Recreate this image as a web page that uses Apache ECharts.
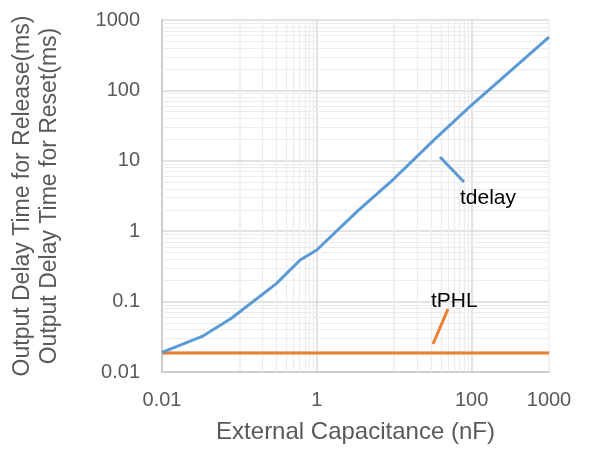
<!DOCTYPE html>
<html>
<head>
  <meta charset="utf-8" />
  <title>Output delay vs external capacitance</title>
  <style>
    html, body { margin: 0; padding: 0; background: #fff; }
    #chartBox { width: 590px; height: 455px; }
  </style>
</head>
<body>
  <div id="chartBox"></div>
  <script src="https://cdn.jsdelivr.net/npm/echarts@6/dist/echarts.min.js"></script>
  <script>
    // capacitance (nF) and delay (ms)
    var tdelayCap = [0.01, 0.033, 0.079, 0.30, 0.61, 1, 3.3, 10, 33, 100, 1000];
    var tdelayMs  = [0.019, 0.032, 0.058, 0.18, 0.39, 0.54, 1.9, 5.6, 20, 62, 570];
    var tphlCap = [0.01, 1000];
    var tphlMs  = [0.0186, 0.0186];

    var xTickLabels = ['0.01', '1', '100', '1000'];
    var yTickLabels = ['0.01', '0.1', '1', '10', '100', '1000'];
    // light gridlines between the labelled ones (Excel minor lines)
    var xMinorGrid = [0.2, 0.3, 0.4, 0.5, 0.6, 0.7, 0.8, 0.9, 20, 30, 40, 50, 60, 70, 80, 90];
    var yDecades = [0.01, 0.1, 1, 10, 100];
    var yMinorSteps = [2, 3, 4, 5, 6, 7, 8, 9];

    var xTitle = 'External Capacitance (nF)';
    var yTitleLines = ['Output Delay Time for Release(ms)', 'Output Delay Time for Reset(ms)'];

    var _font = 'Liberation Sans, Arial, sans-serif';
    var textGray = '#595959';

    function pairs(xs, ys) {
      var out = [];
      for (var i = 0; i < xs.length; i++) out.push([xs[i], ys[i]]);
      return out;
    }

    function fmtTick(list) {
      return function (v) {
        var s = String(+v.toPrecision(6));
        return list.indexOf(s) >= 0 ? s : '';
      };
    }

    var minorLines = [];
    xMinorGrid.forEach(function (v) { minorLines.push({ xAxis: v }); });
    yDecades.forEach(function (d) {
      yMinorSteps.forEach(function (m) { minorLines.push({ yAxis: +(d * m).toPrecision(6) }); });
    });

    var myChart = echarts.init(document.getElementById('chartBox'));
    var option = {
      animation: false,
      textStyle: { fontFamily: _font },
      grid: { left: 162, right: 41, top: 20, bottom: 83, containLabel: false },
      xAxis: {
        type: 'log',
        logBase: 10,
        min: 0.01,
        max: 1000,
        splitNumber: 5,
        name: xTitle,
        nameLocation: 'middle',
        nameGap: 48,
        nameTextStyle: { fontSize: 24, color: textGray, fontFamily: _font },
        axisLine: { show: true, lineStyle: { color: '#c6c6c6', width: 1.5 } },
        axisTick: { show: false },
        axisLabel: {
          fontSize: 20, color: textGray, margin: 18, fontFamily: _font,
          showMinLabel: true, showMaxLabel: true,
          formatter: fmtTick(xTickLabels)
        },
        splitLine: { show: true, lineStyle: { color: ['#d9d9d9', '#ececec'], width: 1.5 } }
      },
      yAxis: {
        type: 'log',
        logBase: 10,
        min: 0.01,
        max: 1000,
        splitNumber: 5,
        name: yTitleLines.join('\n'),
        nameLocation: 'middle',
        nameRotate: 90,
        nameGap: 99,
        nameTextStyle: { fontSize: 23, lineHeight: 27, color: textGray, fontFamily: _font },
        axisLine: { show: true, lineStyle: { color: '#c6c6c6', width: 1.5 } },
        axisTick: { show: false },
        axisLabel: {
          fontSize: 20, color: textGray, margin: 22, fontFamily: _font,
          formatter: fmtTick(yTickLabels)
        },
        splitLine: { show: true, lineStyle: { color: '#d9d9d9', width: 1.5 } }
      },
      series: [
        {
          name: 'grid-minor',
          type: 'line',
          data: [],
          silent: true,
          z: 1,
          markLine: {
            silent: true,
            z: 1,
            symbol: 'none',
            animation: false,
            label: { show: false },
            lineStyle: { color: '#ececec', type: 'solid', width: 1.2 },
            data: minorLines
          }
        },
        {
          name: 'tPHL',
          type: 'line',
          data: pairs(tphlCap, tphlMs),
          showSymbol: false,
          symbol: 'none',
          z: 3,
          lineStyle: { color: '#ed7d31', width: 3 }
        },
        {
          name: 'tdelay',
          type: 'line',
          data: pairs(tdelayCap, tdelayMs),
          showSymbol: false,
          symbol: 'none',
          z: 4,
          lineStyle: { color: '#5b9bd5', width: 3 }
        }
      ],
      graphic: [
        { type: 'line', shape: { x1: 440, y1: 157, x2: 464, y2: 182 }, style: { stroke: '#5b9bd5', lineWidth: 3 }, z: 10 },
        { type: 'text', x: 460, y: 198, style: { text: 'tdelay', fill: '#000', fontSize: 21, fontFamily: _font, verticalAlign: 'middle' }, z: 10 },
        { type: 'line', shape: { x1: 448, y1: 309, x2: 433, y2: 344 }, style: { stroke: '#ed7d31', lineWidth: 3 }, z: 10 },
        { type: 'text', x: 431, y: 301, style: { text: 'tPHL', fill: '#000', fontSize: 21, fontFamily: _font, verticalAlign: 'middle' }, z: 10 }
      ]
    };
    myChart.setOption(option);
  </script>
</body>
</html>
